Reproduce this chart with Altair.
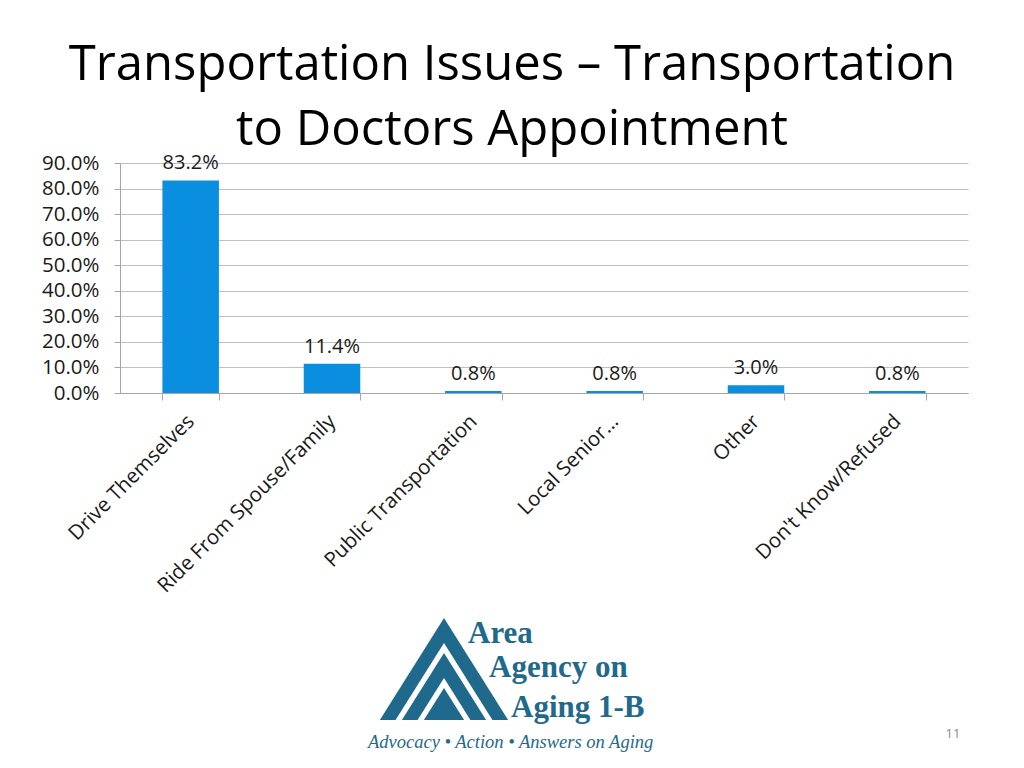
import altair as alt
import pandas as pd

# ---------------- data ----------------
categories = ["Drive Themselves", "Ride From Spouse/Family", "Public Transportation",
              "Local Senior…", "Other", "Don't Know/Refused"]
values = [0.832, 0.114, 0.008, 0.008, 0.030, 0.008]
y_ticks = [0.0, 0.1, 0.2, 0.3, 0.4, 0.5, 0.6, 0.7, 0.8, 0.9]

title_lines = ["Transportation Issues – Transportation", "to Doctors Appointment"]
logo_lines = ["Area", "Agency on", "Aging 1-B"]
tagline = ["Advocacy • Action • Answers on Aging"]
page_number = ["11"]
logo_heights = [102, 77, 67, 42, 32]
logo_fills = ["#1f6a8c", "#ffffff", "#1f6a8c", "#ffffff", "#1f6a8c"]

BAR = "#0a8fe0"
LOGO = "#1f6a8c"
FONT = "Open Sans"
TXT = "#1a1a1a"

df = pd.DataFrame({"category": categories, "value": values})

x_enc = alt.X(
    "category:N", sort=categories,
    scale=alt.Scale(paddingInner=0.6, paddingOuter=0.3),
    axis=alt.Axis(title=None, labelAngle=-45, labelFontSize=20.5, labelFont=FONT,
                  labelColor=TXT, tickBand="extent", tickSize=7, labelLimit=0,
                  tickColor="#a6a6a6", domainColor="#a6a6a6", labelPadding=18,
                  labelAlign="right", labelBaseline="middle", grid=False,
                  labelOverlap=False),
)
y_enc = alt.Y(
    "value:Q", scale=alt.Scale(domain=[0, 0.9], nice=False),
    axis=alt.Axis(values=y_ticks, format=".1%", title=None, labelFontSize=20.5,
                  labelFont=FONT, labelColor=TXT, tickSize=6, labelOverlap=False,
                  labelBound=False, labelFlush=False,
                  tickColor="#a6a6a6", domainColor="#a6a6a6", labelPadding=15,
                  gridColor="#bfbfbf", grid=True),
)

base = alt.Chart(df)
bars = base.mark_bar(color=BAR).encode(x=x_enc, y=y_enc)
labels = base.mark_text(dy=-17, baseline="middle", fontSize=20, font=FONT,
                        color=TXT).encode(
    x=x_enc,
    y=y_enc,
    text=alt.Text("value:Q", format=".1%"),
)

# ---------------- slide decorations ----------------
def text_layer(lines, xs, ys, **kw):
    layers = []
    for t, xv, yv in zip(lines, xs, ys):
        layers.append(
            alt.Chart(pd.DataFrame({"t": [t]})).mark_text(**kw).encode(
                text="t:N", x=alt.value(xv), y=alt.value(yv))
        )
    return layers

title_layers = text_layer(title_lines, [392, 392], [-83, -18],
                          fontSize=49, font=FONT, color="#000000",
                          align="center", baseline="alphabetic")

logo_text_layers = text_layer(logo_lines, [348, 369, 391], [480, 514, 554],
                              fontSize=31, font="Liberation Serif", fontWeight="bold",
                              color=LOGO, align="left", baseline="alphabetic")

tag_layers = text_layer(tagline, [248], [585], fontSize=18.5, font="Liberation Serif",
                        fontStyle="italic", color=LOGO, align="left",
                        baseline="alphabetic")

page_layers = text_layer(page_number, [833], [575], fontSize=13, font=FONT,
                         color="#8c8c8c", align="center", baseline="alphabetic")

RATIO = 1.59
tri_df = pd.DataFrame({
    "h": logo_heights,
    "fill": logo_fills,
    "order": list(range(len(logo_heights))),
})
tri_df["size"] = (2 * tri_df["h"] / RATIO) ** 2
triangles = alt.Chart(tri_df).mark_point(
    shape=f"M0,-{RATIO}L1,0L-1,0Z", filled=True, opacity=1, strokeWidth=0
).encode(
    x=alt.value(324), y=alt.value(557),
    size=alt.Size("size:Q", scale=None, legend=None),
    fill=alt.Fill("fill:N", scale=None, legend=None),
    order=alt.Order("order:Q"),
)

chart = alt.layer(
    bars, labels, *title_layers, triangles, *logo_text_layers, *tag_layers, *page_layers
).properties(
    width=848, height=230,
    autosize=alt.AutoSizeParams(type="none"),
    padding={"left": 112, "top": 155, "right": 48, "bottom": 370},
    background="white",
).configure_view(stroke=None)

chart.save("out.html", embed_options={"renderer": "svg", "actions": False})
